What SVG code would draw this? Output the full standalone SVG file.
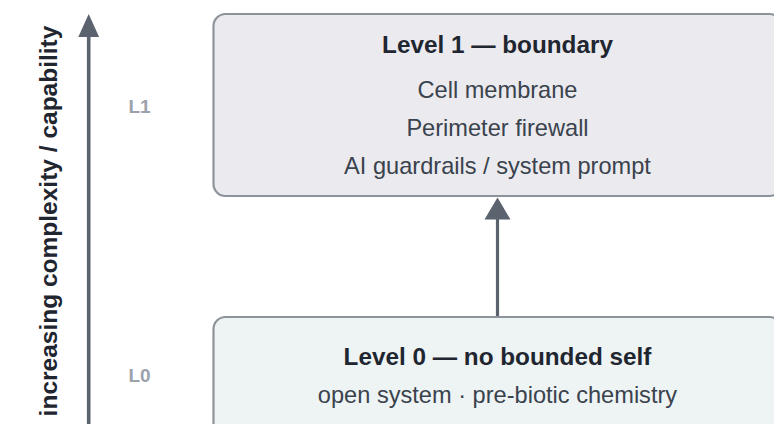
<svg xmlns="http://www.w3.org/2000/svg" width="774" height="424" viewBox="0 0 774 424">
<style>
.box{stroke:#8d939b;stroke-width:2.2}
.title{font-family:"Liberation Sans",Arial,sans-serif;font-weight:bold;font-size:24.3px;fill:#1f2630;text-anchor:middle}
.body{font-family:"Liberation Sans",Arial,sans-serif;font-size:23.6px;fill:#3a434d;text-anchor:middle}
.lvl{font-family:"Liberation Sans",Arial,sans-serif;font-weight:bold;font-size:19px;fill:#9ca2ab;text-anchor:middle}
.axis{font-family:"Liberation Sans",Arial,sans-serif;font-weight:bold;font-size:24.5px;fill:#1f2630;text-anchor:middle}
.conn{stroke:#5a636e;stroke-width:3.2;fill:none}
.head{fill:#5a636e}
</style>
<rect width="774" height="424" fill="#ffffff"/>
<g id="axis">
<line class="conn" x1="88.7" y1="36" x2="88.7" y2="430" style="stroke-width:3.6"/>
<polygon class="head" points="88.7,14 78.3,37 99.1,37"/>
<text class="axis" transform="translate(56.5,221) rotate(-90)">increasing complexity / capability</text>
</g>
<g id="label-L1"><text class="lvl" x="139.5" y="113.3">L1</text></g>
<g id="label-L0"><text class="lvl" x="139.5" y="382.3">L0</text></g>
<g id="connectors">
<line class="conn" x1="497.5" y1="318" x2="497.5" y2="217"/>
<polygon class="head" points="497.5,197.5 484.5,219.5 510.5,219.5"/>
</g>
<g id="level1">
<rect class="box" x="213.5" y="14" width="568" height="182" rx="12" fill="#ebeaef"/>
<text class="title" x="497.5" y="52.7">Level 1 — boundary</text>
<text class="body" x="497.5" y="97.7">Cell membrane</text>
<text class="body" x="497.5" y="136">Perimeter firewall</text>
<text class="body" x="497.5" y="173.5">AI guardrails / system prompt</text>
</g>
<g id="level0">
<rect class="box" x="213.5" y="317" width="568" height="140" rx="12" fill="#eef3f4"/>
<text class="title" x="497.5" y="365">Level 0 — no bounded self</text>
<text class="body" x="497.5" y="402.7">open system · pre-biotic chemistry</text>
</g>
</svg>
